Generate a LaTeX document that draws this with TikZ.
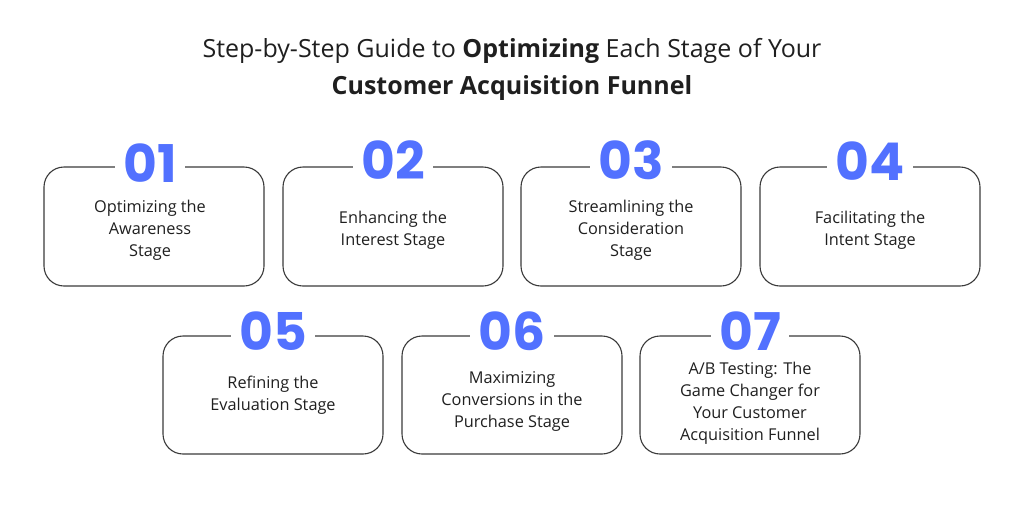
\documentclass[tikz,border=0pt]{standalone}
\usepackage{fontspec}
\setmainfont{Open Sans}
\newfontfamily\numfont{Poppins}[UprightFont=* Bold]
\definecolor{numblue}{HTML}{5271FF}
\definecolor{txt}{HTML}{1F1F1F}
\definecolor{border}{HTML}{3A3A3A}
\begin{document}
\begin{tikzpicture}[x=1pt,y=-1pt,
  card/.style={draw=border,line width=1.1pt,rounded corners=20pt},
  num/.style={fill=white,inner xsep=8pt,inner ysep=0pt,text height=37pt,text depth=0pt,text=numblue,font=\numfont\fontsize{52}{52}\selectfont},
  label/.style={align=center,inner sep=0pt,text=txt,font=\fontsize{16.3}{22}\selectfont},
  title/.style={text=txt,font=\fontsize{25}{28}\selectfont}]
\useasboundingbox (0,0) rectangle (1024,512);
\node[title] (t1) at (512,51) {Step-by-Step Guide to \textbf{Optimizing} Each Stage of Your};
\node[title] (t2) at (512,88) {\textbf{Customer Acquisition Funnel}};
% row 1
\foreach \x/\cx/\ny/\n/\t/\nm in {44/150/164/01/{Optimizing the\\Awareness\\Stage}/a, 283/393/161/02/{Enhancing the\\Interest Stage}/b, 521/631/161/03/{Streamlining the\\Consideration\\Stage}/c, 760/870/162/04/{Facilitating the\\Intent Stage}/d}{
  \draw[card] (\x,167) rectangle ++(220,119);
  \node[num] (n\nm) at (\cx,\ny) {\n};
  \node[label] (l\nm) at (\cx,230) {\t};
}
% row 2
\foreach \x/\ly/\n/\t/\nm in {163/395/05/{Refining the\\Evaluation Stage}/e, 402/401/06/{Maximizing\\Conversions in the\\Purchase Stage}/f, 640/403/07/{A/B Testing: The\\Game Changer for\\Your Customer\\Acquisition Funnel}/g}{
  \draw[card] (\x,336) rectangle ++(220,118);
  \node[num] (n\nm) at (\x+110,332) {\n};
  \node[label] (l\nm) at (\x+110,\ly) {\t};
}
\end{tikzpicture}
\end{document}
